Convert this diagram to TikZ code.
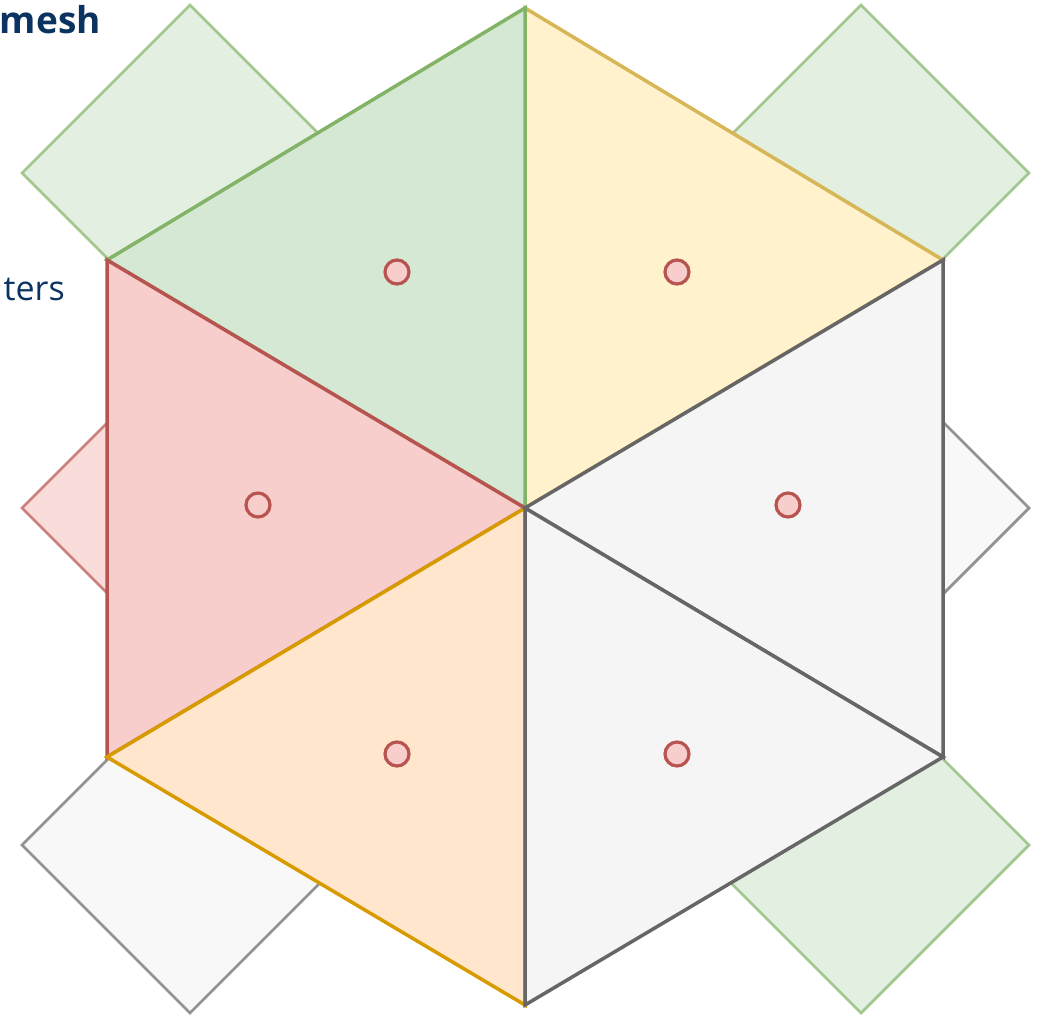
\documentclass[tikz,border=0pt]{standalone}
\usepackage{fontspec}
\newfontfamily\osans{Open Sans}
\definecolor{gfill}{HTML}{D5E8D4}\definecolor{gline}{HTML}{82B366}
\definecolor{yfill}{HTML}{FFF2CC}\definecolor{yline}{HTML}{D6B656}
\definecolor{rfill}{HTML}{F8CECC}\definecolor{rline}{HTML}{B85450}
\definecolor{ofill}{HTML}{FFE6CC}\definecolor{oline}{HTML}{D79B00}
\definecolor{kfill}{HTML}{F5F5F5}\definecolor{kline}{HTML}{666666}
\definecolor{txt}{HTML}{0B3361}
\tikzset{
  tri/.style={line width=3.5pt, line join=miter},
  dia/.style={line width=2.8pt, opacity=0.7},
  dot/.style={circle, draw=rline, fill=rfill, line width=3.2pt, minimum size=24pt, inner sep=0pt},
  lbl/.style={text=txt, inner sep=0pt}
}
\begin{document}
\begin{tikzpicture}[x=1pt,y=-1pt]
\useasboundingbox (0,0) rectangle (1041,1017);
% hexagon vertices
\coordinate (T) at (525,8);
\coordinate (UR) at (943,260);
\coordinate (LR) at (943,757);
\coordinate (B) at (525,1005);
\coordinate (LL) at (107,757);
\coordinate (UL) at (107,260);
\coordinate (C) at (525,508);
% diamonds
\newcommand\diam[4]{\path[dia, fill=#3, draw=#4] (#1,#2-168) -- (#1+168,#2) -- (#1,#2+168) -- (#1-168,#2) -- cycle;}
\diam{190}{173}{gfill}{gline}
\diam{861}{173}{gfill}{gline}
\diam{190}{508}{rfill}{rline}
\diam{861}{508}{kfill}{kline}
\diam{190}{845}{kfill}{kline}
\diam{861}{845}{gfill}{gline}
% triangles
\path[tri, fill=yfill, draw=yline] (T) -- (UR) -- (C) -- cycle;
\path[tri, fill=gfill, draw=gline] (UL) -- (T) -- (C) -- cycle;
\path[tri, fill=rfill, draw=rline] (UL) -- (C) -- (LL) -- cycle;
\path[tri, fill=ofill, draw=oline] (LL) -- (C) -- (B) -- cycle;
\path[tri, fill=kfill, draw=kline] (UR) -- (LR) -- (C) -- cycle;
\path[tri, fill=kfill, draw=kline] (C) -- (LR) -- (B) -- cycle;
% centre markers
\node[dot] (c1) at (397,272) {};
\node[dot] (c2) at (677,272) {};
\node[dot] (c3) at (258,505) {};
\node[dot] (c4) at (788,505) {};
\node[dot] (c5) at (397,754) {};
\node[dot] (c6) at (677,754) {};
% texts
\node[lbl, anchor=base east, font=\osans\bfseries\fontsize{37}{42}\selectfont] (t1) at (101,33) {mesh};
\node[lbl, anchor=base east, font=\osans\fontsize{34}{40}\selectfont] (t2) at (65,300) {ters};
\end{tikzpicture}
\end{document}
